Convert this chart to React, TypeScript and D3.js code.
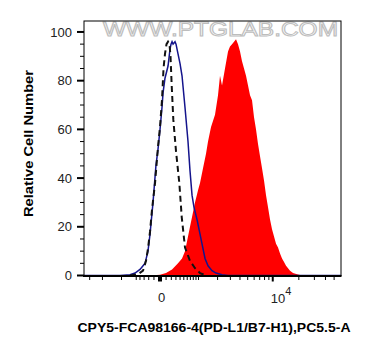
import React from "react";
import * as d3 from "d3";

// ---- data (x in fluorescence units, y in relative cell number) ----
const redX = [-174, 0, 99, 215, 349, 451, 534, 624, 688, 756, 863, 980, 1062, 1194, 1336, 1438, 1600, 1835, 2029, 2166, 2311, 2541, 2792, 2967, 3156, 3352, 3559, 3776, 4005, 4245, 4499, 4765, 5046, 5341, 5651, 5978, 6322, 6683, 7064, 7465, 7886, 8330, 8797, 9288, 9805, 10349, 10921, 11523, 12157, 12824, 13525, 14264, 15041, 15858, 17160, 19080, 21720];
const redY = [0, 0.3, 1, 2.5, 5, 7, 10, 16, 20, 24, 30, 35, 38, 44, 50, 55, 61, 66, 74, 82, 78, 85, 92, 94, 95, 96, 97, 95, 92, 88, 85, 82, 78, 74, 72, 65, 60, 54, 49, 44, 39, 33, 28, 23, 19, 16, 13, 11.5, 9, 7, 5.5, 4, 3, 2, 1, 0.5, 0];

const blueX = [-3550, -1062, -688, -534, -399, -279, -215, -174, -117, -66, -31, 0, 31, 48, 81, 136, 174, 194, 215, 236, 257, 279, 302, 349, 399, 451, 534, 624, 688, 756, 826, 940, 1062, 1149, 1288, 1438, 1656, 1898, 2311, 2792, 59700];
const blueY = [0, 0, 0.3, 1, 2.5, 5, 10, 17, 30, 45, 52, 60, 69, 75, 81, 86, 93, 95, 96, 95, 95.5, 96, 95, 91, 87, 82, 69, 55, 43, 33, 28, 23, 17, 13, 7, 4, 2, 1, 0.3, 0, 0];

const dashX = [-688, -451, -325, -257, -215, -174, -136, -81, -31, 0, 31, 56, 81, 108, 136, 164, 184, 208, 242, 302, 381, 443, 534, 688, 863, 1062, 1336];
const dashY = [0, 0.5, 2, 6, 11, 18, 27, 38, 53, 61, 72, 85, 91, 95, 96, 95, 90, 78, 64, 51, 38, 24, 11.5, 6, 3, 1, 0];

const yTicks = [0, 20, 40, 60, 80, 100];
const yMinor = [5, 10, 15, 25, 30, 35, 45, 50, 55, 65, 70, 75, 85, 90, 95];
const xMinor = [-3000, -2000, -1000, -500, -400, -300, -200, -100, 100, 200, 300, 400, 500, 600, 700, 800, 900, 1000, 2000, 3000, 4000, 5000, 6000, 7000, 8000, 9000, 20000, 30000, 40000, 50000];
const xMajor = [0, 10000];

const xTitle = "CPY5-FCA98166-4(PD-L1/B7-H1),PC5.5-A";
const yTitle = "Relative Cell Number";
const watermark = "WWW.PTGLAB.COM";

export default function App() {
  const L = 84, R = 341, T = 21, B = 275.5;
  const x = d3.scaleSymlog().constant(600).domain([-3560, 59700]).range([L, R]);
  const y = d3.scaleLinear().domain([0, 104.5]).range([B, T]);

  const red = redX.map((v, i) => [v, redY[i]] as [number, number]);
  const blue = blueX.map((v, i) => [v, blueY[i]] as [number, number]);
  const dash = dashX.map((v, i) => [v, dashY[i]] as [number, number]);

  const area = d3.area<[number, number]>().x(d => x(d[0])).y0(y(0)).y1(d => y(d[1]));
  const line = d3.line<[number, number]>().x(d => x(d[0])).y(d => y(d[1]));

  const font = "'Liberation Sans', Arial, sans-serif";

  return (
    <svg width={370} height={356} style={{ position: "absolute", left: 0, top: 0, background: "#fff" }} fontFamily={font}>
      <rect x={0} y={0} width={370} height={356} fill="#fff" />
      {/* watermark */}
      <text x={103} y={36} fontSize={20} fill="#fbfbfb" stroke="#bdbdbd" strokeWidth={1} textLength={235} lengthAdjust="spacingAndGlyphs">{watermark}</text>
      {/* red filled histogram */}
      <path d={area(red) || ""} fill="#ff0000" />
      {/* blue line */}
      <path d={line(blue) || ""} fill="none" stroke="#14148c" strokeWidth={1.5} />
      {/* dashed black */}
      <path d={line(dash) || ""} fill="none" stroke="#111" strokeWidth={2} strokeDasharray="6,4" />
      {/* frame */}
      <rect x={L} y={T} width={R - L} height={B - T} fill="none" stroke="#000" strokeWidth={1} />
      <line x1={L - 1} x2={R + 0.5} y1={B + 0.5} y2={B + 0.5} stroke="#000" strokeWidth={2} />
      {/* y ticks */}
      {yTicks.map(t => (
        <g key={"yt" + t}>
          <line x1={L - 7} x2={L} y1={y(t)} y2={y(t)} stroke="#000" strokeWidth={2} />
          <text x={72} y={y(t) + 4.7} fontSize={13} textAnchor="end" fill="#222">{t}</text>
        </g>
      ))}
      {yMinor.map(t => (
        <line key={"ym" + t} x1={L - 4} x2={L} y1={y(t)} y2={y(t)} stroke="#000" strokeWidth={1} />
      ))}
      {/* x ticks */}
      {xMinor.map(t => (
        <line key={"xm" + t} x1={x(t)} x2={x(t)} y1={B + 1} y2={B + 4.5} stroke="#000" strokeWidth={1} />
      ))}
      {xMajor.map(t => (
        <line key={"xM" + t} x1={x(t)} x2={x(t)} y1={B + 1} y2={B + 6} stroke="#000" strokeWidth={t === 0 ? 4 : 2} />
      ))}
      <text x={x(0) + 1.5} y={302} fontSize={13} textAnchor="middle" fill="#222">0</text>
      <text x={x(10000) - 2} y={302.5} fontSize={13} fill="#222">10</text>
      <text x={x(10000) + 12.5} y={295} fontSize={11} fill="#222">4</text>
      {/* titles */}
      <text x={214} y={332} fontSize={12.5} fontWeight="bold" textAnchor="middle" textLength={273} lengthAdjust="spacingAndGlyphs">{xTitle}</text>
      <text transform="translate(33,143.5) rotate(-90)" fontSize={13.5} fontWeight="bold" textAnchor="middle" textLength={147} lengthAdjust="spacingAndGlyphs">{yTitle}</text>
    </svg>
  );
}
